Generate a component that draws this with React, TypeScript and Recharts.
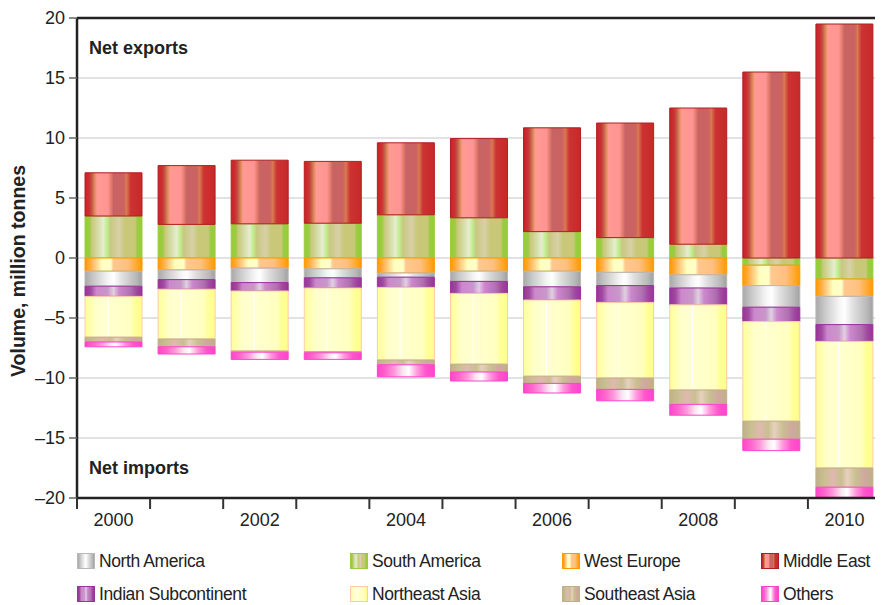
import React from 'react';
import {
  BarChart,
  Bar,
  XAxis,
  YAxis,
  CartesianGrid,
  ReferenceLine,
} from 'recharts';

// ---------- data ----------
const years = ['2000', '2001', '2002', '2003', '2004', '2005', '2006', '2007', '2008', '2009', '2010'];
const southAmerica = [3.5, 2.8, 2.85, 2.9, 3.6, 3.35, 2.2, 1.7, 1.15, -0.6, -1.75];
const middleEast = [3.6, 4.9, 5.3, 5.15, 6.0, 6.6, 8.65, 9.55, 11.35, 15.5, 19.5];
const westEurope = [-1.1, -1.0, -0.85, -0.9, -1.25, -1.1, -1.1, -1.2, -1.4, -1.7, -1.45];
const northAmerica = [-1.25, -0.8, -1.2, -0.75, -0.35, -0.85, -1.3, -1.1, -1.1, -1.8, -2.35];
const indianSubcontinent = [-0.85, -0.8, -0.7, -0.85, -0.85, -1.0, -1.1, -1.4, -1.4, -1.2, -1.4];
const northeastAsia = [-3.4, -4.15, -5.0, -5.3, -6.05, -5.9, -6.35, -6.3, -7.1, -8.3, -10.55];
const southeastAsia = [-0.4, -0.65, -0.1, -0.1, -0.4, -0.65, -0.6, -0.95, -1.2, -1.5, -1.6];
const others = [-0.4, -0.6, -0.6, -0.55, -1.0, -0.75, -0.8, -0.95, -0.9, -0.95, -0.85];
const yTicks = [-20, -15, -10, -5, 0, 5, 10, 15, 20];
const labelExports = 'Net exports';
const labelImports = 'Net imports';
const yAxisTitle = 'Volume, million tonnes';

const data = years.map((year, i) => ({
  year,
  southAmerica: southAmerica[i],
  middleEast: middleEast[i],
  westEurope: westEurope[i],
  northAmerica: northAmerica[i],
  indianSubcontinent: indianSubcontinent[i],
  northeastAsia: northeastAsia[i],
  southeastAsia: southeastAsia[i],
  others: others[i],
}));

// ---------- styles ----------
type Stop = [number, string];
const gradients: Record<string, Stop[]> = {
  middleEast: [[0, '#c8202a'], [0.08, '#cc3333'], [0.12, '#c05a48'], [0.17, '#e08a5a'], [0.21, '#ff9a92'], [0.4, '#ff9494'], [0.45, '#e88070'], [0.5, '#c86464'], [0.68, '#cc6262'], [0.73, '#d87a50'], [0.8, '#cc3333'], [1, '#c82828']],
  southAmerica: [[0, '#99cc33'], [0.08, '#99cc44'], [0.12, '#c8c878'], [0.25, '#d8e0b0'], [0.32, '#e8ecd0'], [0.38, '#c0f090'], [0.45, '#c8c880'], [0.6, '#d8d0a8'], [0.7, '#c8c878'], [0.88, '#c8c878'], [0.92, '#99cc44'], [1, '#99cc33']],
  westEurope: [[0, '#ff9900'], [0.08, '#ffaa33'], [0.15, '#ffc070'], [0.3, '#ffffc0'], [0.45, '#ffffc8'], [0.5, '#ffc890'], [0.75, '#ffc080'], [0.9, '#ffaa33'], [1, '#ff9900']],
  northAmerica: [[0, '#a8a8a8'], [0.15, '#c8c8c8'], [0.4, '#f4f4f4'], [0.5, '#ffffff'], [0.65, '#e0e0e0'], [0.9, '#b8b8b8'], [1, '#a0a0a0']],
  indianSubcontinent: [[0, '#993399'], [0.1, '#a04aa0'], [0.2, '#cc88cc'], [0.4, '#c898c8'], [0.5, '#e0d0e0'], [0.6, '#cc88cc'], [0.8, '#b070b0'], [0.9, '#a04aa0'], [1, '#993399']],
  northeastAsia: [[0, '#ffff99'], [0.1, '#ffffb0'], [0.2, '#ffffcc'], [0.38, '#ffffd0'], [0.4, '#ffffff'], [0.42, '#ffffd0'], [0.8, '#ffffc0'], [0.88, '#ffff99'], [1, '#ffff88']],
  southeastAsia: [[0, '#c0b088'], [0.15, '#c8c090'], [0.3, '#e0b8b0'], [0.45, '#c8c090'], [0.55, '#e8d0c0'], [0.7, '#c8c090'], [0.85, '#d0a8a0'], [1, '#c0b088']],
  others: [[0, '#ff44cc'], [0.15, '#ff66cc'], [0.3, '#ff99dd'], [0.45, '#f8e8f0'], [0.55, '#ffffff'], [0.7, '#ff99dd'], [0.85, '#ff55cc'], [1, '#ff44cc']],
};
const strokes: Record<string, string> = {
  middleEast: '#b02020',
  southAmerica: '#99cc44',
  westEurope: '#ff9900',
  northAmerica: '#b8b8b8',
  indianSubcontinent: '#993399',
  northeastAsia: '#ffccaa',
  southeastAsia: '#c0b088',
  others: '#ff44cc',
};

// stacking order (sign offset: positives and negatives stack separately)
const stackOrder = ['southAmerica', 'middleEast', 'westEurope', 'northAmerica', 'indianSubcontinent', 'northeastAsia', 'southeastAsia', 'others'];
const names: Record<string, string> = {
  northAmerica: 'North America',
  southAmerica: 'South America',
  westEurope: 'West Europe',
  middleEast: 'Middle East',
  indianSubcontinent: 'Indian Subcontinent',
  northeastAsia: 'Northeast Asia',
  southeastAsia: 'Southeast Asia',
  others: 'Others',
};
const legendRows = [
  ['northAmerica', 'southAmerica', 'westEurope', 'middleEast'],
  ['indianSubcontinent', 'northeastAsia', 'southeastAsia', 'others'],
];

const FONT = "'Liberation Sans', Arial, Helvetica, sans-serif";
const CHART_W = 873;
const CHART_H = 530;
const Y_AXIS_W = 69;
const PLOT_W = CHART_W - Y_AXIS_W;
const BAND = PLOT_W / years.length;

const XTick = (props: any) => {
  const { x, y, payload } = props;
  const i = payload?.index ?? props.index ?? 0;
  const left = x - BAND / 2;
  return (
    <g>
      <line x1={left} x2={left} y1={y} y2={y + 11} stroke="#333" strokeWidth={2} />
      {i === years.length - 1 && (
        <line x1={x + BAND / 2} x2={x + BAND / 2} y1={y} y2={y + 11} stroke="#333" strokeWidth={2} />
      )}
      {i % 2 === 0 && (
        <text x={x} y={y + 15} dy="0.72em" textAnchor="middle" fontFamily={FONT} fontSize={18} fill="#222">
          {payload.value}
        </text>
      )}
    </g>
  );
};

const fmtY = (v: number) => (v < 0 ? `\u2013${Math.abs(v)}` : `${v}`);

const YTitle = () => (
  <text
    transform="translate(10,263) rotate(-90)"
    textAnchor="middle"
    dominantBaseline="central"
    fontFamily={FONT}
    fontSize={19.5}
    fontWeight="bold"
    fill="#222"
  >
    {yAxisTitle}
  </text>
);

const cssGradient = (stops: Stop[]) =>
  `linear-gradient(to right, ${stops.map(([o, c]) => `${c} ${o * 100}%`).join(', ')})`;

const legendX = [69, 342, 554, 753];
const legendY = [545, 578];

export default function App() {
  return (
    <div style={{ position: 'relative', width: 875, height: 597, fontFamily: FONT }}>
      <style>{'html,body{overflow:hidden;}'}</style>
      <BarChart
        width={CHART_W}
        height={CHART_H}
        data={data}
        stackOffset="sign"
        barSize={57}
        margin={{ top: 10, right: 0, left: 0, bottom: 0 }}
      >
        <defs>
          {stackOrder.map((k) => (
            <linearGradient key={k} id={`g-${k}`} x1="0" y1="0" x2="1" y2="0">
              {gradients[k].map(([o, c], j) => (
                <stop key={j} offset={o} stopColor={c} />
              ))}
            </linearGradient>
          ))}
        </defs>
        <CartesianGrid vertical={false} stroke="#e2e2e2" strokeWidth={2} />
        <XAxis
          dataKey="year"
          interval={0}
          tickSize={0}
          tickMargin={0}
          height={40}
          tick={<XTick />}
          axisLine={{ stroke: '#222', strokeWidth: 2.5 }}
          tickLine={false}
        />
        <YAxis
          width={Y_AXIS_W}
          domain={[-20, 20]}
          ticks={yTicks}
          tickFormatter={fmtY}
          tickSize={8}
          tickMargin={4}
          interval={0}
          allowDataOverflow
          tick={{ fontFamily: FONT, fontSize: 18, fill: '#222' }}
          tickLine={{ stroke: '#666', strokeWidth: 1.5 }}
          axisLine={{ stroke: '#222', strokeWidth: 2.5 }}
          label={YTitle}
        />
        <ReferenceLine y={20} stroke="#222" strokeWidth={2.5} />
        {stackOrder.map((k) => (
          <Bar
            key={k}
            dataKey={k}
            name={names[k]}
            stackId="a"
            fill={`url(#g-${k})`}
            stroke={strokes[k]}
            strokeWidth={1}
            isAnimationActive={false}
          />
        ))}
        <ReferenceLine
          y={17.5}
          stroke="none"
          label={{ value: labelExports, position: 'insideLeft', offset: 12, fill: '#222', fontWeight: 'bold', fontSize: 18, fontFamily: FONT }}
        />
        <ReferenceLine
          y={-17.5}
          stroke="none"
          label={{ value: labelImports, position: 'insideLeft', offset: 12, fill: '#222', fontWeight: 'bold', fontSize: 18, fontFamily: FONT }}
        />
      </BarChart>
      {legendRows.map((row, r) =>
        row.map((k, c) => (
          <div
            key={k}
            style={{
              position: 'absolute',
              left: legendX[c],
              top: legendY[r],
              display: 'flex',
              alignItems: 'center',
              whiteSpace: 'nowrap',
              fontSize: 17.5,
              letterSpacing: -0.4,
              color: '#222',
              lineHeight: '16px',
            }}
          >
            <span
              style={{
                display: 'inline-block',
                width: 16,
                height: 14,
                background: cssGradient(gradients[k]),
                border: `1px solid ${strokes[k]}`,
                marginRight: 4,
              }}
            />
            <span>{names[k]}</span>
          </div>
        ))
      )}
    </div>
  );
}
